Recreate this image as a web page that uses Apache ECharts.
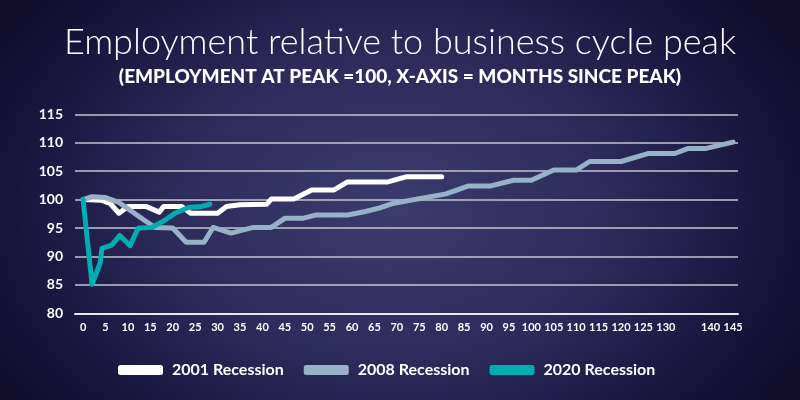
<!DOCTYPE html>
<html>
<head>
<meta charset="utf-8">
<script src="https://cdn.jsdelivr.net/npm/echarts@6/dist/echarts.min.js"></script>
<style>
  html, body { margin: 0; padding: 0; }
  #chart {
    width: 800px; height: 400px;
    background: radial-gradient(ellipse 58% 82% at 49% 52%, #3b3b6e 0%, #2d2c5c 45%, #1a1741 78%, #100c2a 100%);
  }
</style>
</head>
<body>
<div id="chart"></div>
<script>
// Months since peak (x) and employment index (peak = 100)
const months2001 = [0, 4, 6, 8, 10, 14, 17, 18, 22, 24, 30, 32, 35, 41, 42, 47, 51, 56, 59, 68, 72, 80];
const values2001 = [100, 99.9, 99.35, 97.6, 98.8, 98.8, 97.8, 98.8, 98.8, 97.6, 97.6, 98.8, 99.1, 99.2, 100.1, 100.1, 101.7, 101.7, 103.1, 103.1, 104.0, 104.0];

const months2008 = [0, 2, 5, 8, 16, 20, 23, 27, 29, 33, 38, 42, 45, 49, 52, 59, 63, 66, 69, 81, 86, 91, 96, 100, 105, 110, 113, 120, 126, 132, 135, 139, 145];
const values2008 = [100, 100.5, 100.35, 99.5, 95.1, 95.0, 92.5, 92.5, 95.1, 94.1, 95.1, 95.1, 96.7, 96.7, 97.3, 97.3, 97.9, 98.5, 99.3, 101.0, 102.4, 102.4, 103.4, 103.4, 105.2, 105.2, 106.7, 106.7, 108.1, 108.1, 109.0, 109.0, 110.1];

const months2020 = [0, 2, 3.8, 4.2, 6.4, 8.2, 10.5, 12.3, 15.3, 17.9, 20.5, 23.5, 26.5, 28.3];
const values2020 = [100, 85.1, 88.8, 91.4, 92.0, 93.7, 91.9, 95.0, 95.1, 96.2, 97.6, 98.6, 98.8, 99.2];

const xTickLabels = [0, 5, 10, 15, 20, 25, 30, 35, 40, 45, 50, 55, 60, 65, 70, 75, 80, 85, 90, 95, 100, 105, 110, 115, 120, 125, 130, 140, 145];
const yTickLabels = [80, 85, 90, 95, 100, 105, 110, 115];

const seriesNames = ['2001 Recession', '2008 Recession', '2020 Recession'];
const seriesColors = ['#ffffff', '#98b0c8', '#00adb1'];

const zip = (xs, ys) => xs.map((x, i) => [x, ys[i]]);
const seriesData = [zip(months2001, values2001), zip(months2008, values2008), zip(months2020, values2020)];

const FONT = 'Lato, "Open Sans", sans-serif';

const chart = echarts.init(document.getElementById('chart'), null, { renderer: 'canvas' });
chart.setOption({
  backgroundColor: 'transparent',
  animation: false,
  title: {
    text: 'Employment relative to business cycle peak',
    subtext: '(EMPLOYMENT AT PEAK =100, X-AXIS = MONTHS SINCE PEAK)',
    left: 'center',
    top: 19,
    itemGap: 7,
    textStyle: { color: '#ffffff', fontFamily: FONT, fontWeight: 300, fontSize: 36 },
    subtextStyle: { color: '#ffffff', fontFamily: FONT, fontWeight: 900, fontSize: 19 }
  },
  legend: {
    data: seriesNames,
    left: 113,
    top: 357,
    icon: 'roundRect',
    itemWidth: 45,
    itemHeight: 10,
    itemGap: 20,
    textStyle: { color: '#ffffff', fontFamily: FONT, fontWeight: 'bold', fontSize: 16, padding: [0, 0, 0, 4] }
  },
  grid: { left: 75, right: 62, top: 114.3, bottom: 86.7, containLabel: false, outerBoundsMode: 'none' },
  xAxis: {
    type: 'value',
    min: -1.8,
    max: 146.1,
    axisLine: { show: true, lineStyle: { color: '#e8e8ee', width: 2 } },
    axisTick: { show: false },
    splitLine: { show: false },
    axisLabel: {
      customValues: xTickLabels,
      color: '#ffffff', fontFamily: FONT, fontWeight: 'bold', fontSize: 11, margin: 9,
      showMinLabel: true, showMaxLabel: true, hideOverlap: false
    }
  },
  yAxis: {
    type: 'value',
    min: 80,
    max: 115,
    interval: 5,
    axisLine: { show: false },
    axisTick: { show: false },
    splitLine: { show: true, lineStyle: { color: '#c4c4d0', width: 1.5 } },
    axisLabel: {
      customValues: yTickLabels,
      color: '#ffffff', fontFamily: FONT, fontWeight: 'bold', fontSize: 14, margin: 12
    }
  },
  series: seriesNames.map((name, i) => ({
    name: name,
    type: 'line',
    data: seriesData[i],
    color: seriesColors[i],
    symbol: 'none',
    showSymbol: false,
    lineStyle: { color: seriesColors[i], width: 5, cap: 'round', join: 'round' },
    z: 2 + i
  }))
});
</script>
</body>
</html>
